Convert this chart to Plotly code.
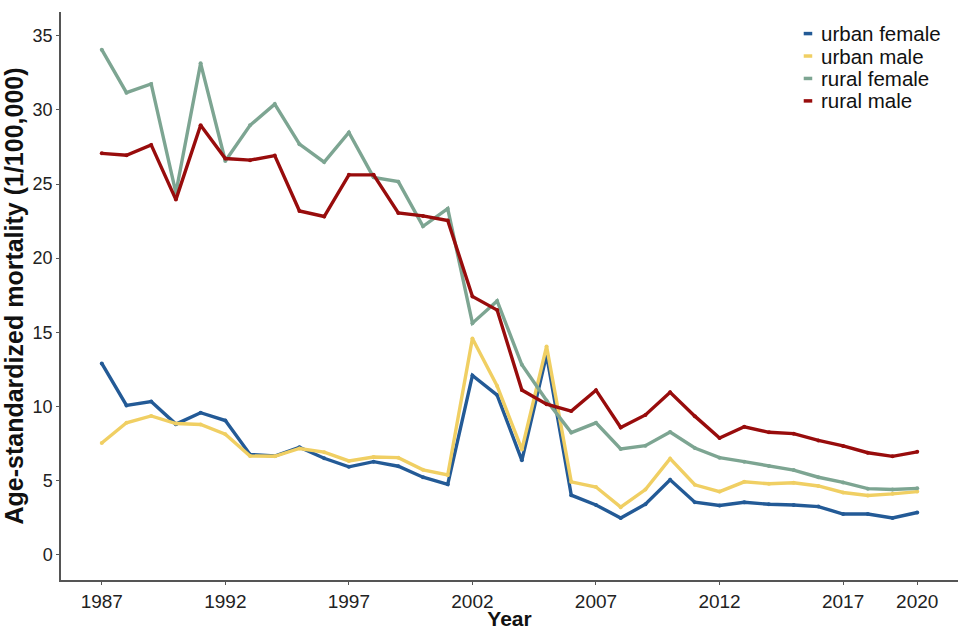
import plotly.graph_objects as go

years = list(range(1987, 2021))

urban_female = [12.9, 10.07, 10.33, 8.81, 9.58, 9.05, 6.77, 6.66, 7.25, 6.51, 5.93, 6.28, 5.97,
                5.23, 4.75, 12.09, 10.77, 6.37, 13.48, 4.02, 3.36, 2.48, 3.41, 5.06, 3.55,
                3.32, 3.54, 3.41, 3.36, 3.25, 2.75, 2.75, 2.48, 2.85]
urban_male = [7.54, 8.9, 9.36, 8.85, 8.79, 8.13, 6.66, 6.64, 7.17, 6.92, 6.33, 6.59, 6.55,
              5.73, 5.38, 14.59, 11.38, 7.1, 14.05, 4.92, 4.57, 3.21, 4.4, 6.48, 4.72,
              4.26, 4.92, 4.79, 4.86, 4.64, 4.2, 4.0, 4.11, 4.26]
rural_female = [34.06, 31.16, 31.75, 24.41, 33.14, 26.55, 28.96, 30.39, 27.69, 26.48, 28.48,
                25.45, 25.16, 22.15, 23.34, 15.62, 17.12, 12.81, 10.4, 8.24, 8.9, 7.14, 7.36,
                8.28, 7.2, 6.55, 6.28, 5.98, 5.71, 5.23, 4.88, 4.46, 4.4, 4.48]
rural_male = [27.07, 26.94, 27.64, 23.95, 28.96, 26.72, 26.61, 26.92, 23.18, 22.81, 25.62,
              25.62, 23.05, 22.85, 22.54, 17.42, 16.5, 11.11, 10.15, 9.69, 11.1, 8.58, 9.43,
              10.96, 9.35, 7.87, 8.63, 8.26, 8.17, 7.71, 7.34, 6.88, 6.64, 6.94]

series_names = ["urban female", "urban male", "rural female", "rural male"]
series_values = [urban_female, urban_male, rural_female, rural_male]
series_colors = ["#235A96", "#F0CF63", "#7DA592", "#980C0C"]

x_ticks = [1987, 1992, 1997, 2002, 2007, 2012, 2017, 2020]
y_ticks = [0, 5, 10, 15, 20, 25, 30, 35]

fig = go.Figure()

for name, vals, col in zip(series_names, series_values, series_colors):
    fig.add_trace(go.Scatter(
        x=years, y=vals, mode="lines+markers", name=name,
        line=dict(color=col, width=3.4),
        marker=dict(color=col, size=4),
        showlegend=False,
    ))

font_family = "Liberation Sans, Arial, sans-serif"

# compact legend: a short coloured dash followed by the series name per row
legend_x = 0.828      # paper x of the dash start
legend_top = 0.962    # paper y of the first row
legend_step = 0.0395  # paper height between rows
for i, (name, col) in enumerate(zip(series_names, series_colors)):
    yy = legend_top - i * legend_step
    fig.add_shape(type="line", xref="paper", yref="paper",
                  x0=legend_x, x1=legend_x + 0.0095, y0=yy, y1=yy,
                  line=dict(color=col, width=3.5))
    fig.add_annotation(xref="paper", yref="paper", x=legend_x + 0.018, y=yy,
                       xanchor="left", yanchor="middle", showarrow=False, borderpad=0,
                       text=name, font=dict(size=20.5, color="#111", family=font_family))

fig.update_layout(
    width=959, height=630,
    margin=dict(l=61, r=1, t=12, b=38),
    paper_bgcolor="white", plot_bgcolor="white",
    font=dict(family=font_family, color="#222"),
    showlegend=False,
    xaxis=dict(
        range=[1985.35, 2021.65], tickvals=x_ticks, ticktext=[str(v) for v in x_ticks],
        showgrid=False, zeroline=False, showline=True, linecolor="#555", linewidth=1.5,
        ticks="outside", ticklen=3, tickcolor="#555", tickwidth=1,
        tickfont=dict(size=19, color="#222"),
        title=dict(text="<b>Year</b>", font=dict(size=21, color="#111"), standoff=3),
    ),
    yaxis=dict(
        range=[-1.7, 36.6], tickvals=y_ticks,
        showgrid=False, zeroline=False, showline=True, linecolor="#555", linewidth=1.5,
        ticks="outside", ticklen=3, tickcolor="#555", tickwidth=1,
        tickfont=dict(size=18, color="#222"),
        title=dict(text="<b>Age-standardized mortality (1/100,000)</b>",
                   font=dict(size=25, color="#111"), standoff=4),
    ),
)

fig.write_html("out.html")
